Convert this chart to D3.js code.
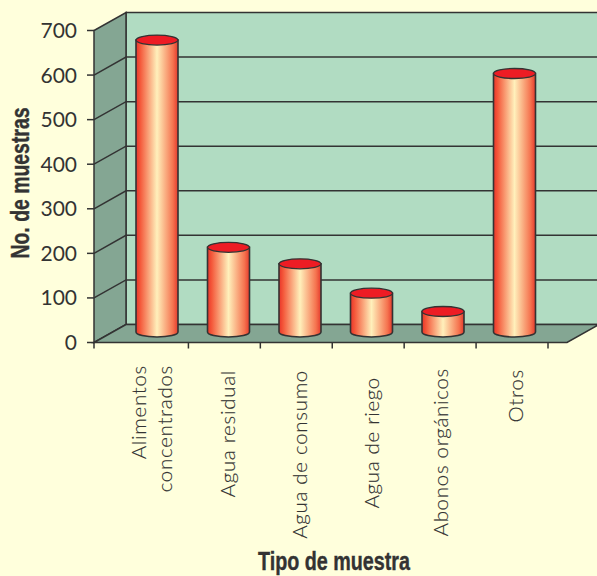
<!DOCTYPE html>
<html><head><meta charset="utf-8">
<script src="https://cdn.jsdelivr.net/npm/d3@7"></script>
<style>html,body{margin:0;padding:0;background:#ffffdc}svg{display:block}</style>
</head><body><svg id="c" width="597" height="576"></svg>
<script>
const categories = ["Alimentos concentrados","Agua residual","Agua de consumo","Agua de riego","Abonos orgánicos","Otros"];
const categoryLines = [["Alimentos","concentrados"],["Agua residual"],["Agua de consumo"],["Agua de riego"],["Abonos orgánicos"],["Otros"]];
const values = [655, 190, 153, 87, 46, 580];
const yTicks = [0,100,200,300,400,500,600,700];

const ink = "#333333";
const depth = {x:32, y:-18};
const svg = d3.select("#c");
const y = d3.scaleLinear().domain([0,700]).range([342.5,30.5]);
const xBand = d3.scaleBand().domain(categories).range([116.5,548]);
const xBar = d3.scalePoint().domain(categories).range([157,514.5]);
const x0 = 94, x1 = 567;

const defs = svg.append("defs");
const g = defs.append("linearGradient").attr("id","cyl");
[[0,"#e8352a"],[.1,"#f4583a"],[.5,"#fff0bb"],[.88,"#f5734f"],[1,"#e43a2c"]].forEach(s=>g.append("stop").attr("offset",s[0]).attr("stop-color",s[1]));

const poly = (pts,fill)=>svg.append("path").attr("d",d3.line()(pts)+"Z").attr("fill",fill).attr("stroke",ink).attr("stroke-width",1.5);
// back wall, side wall and floor
poly([[x0+depth.x,y(0)+depth.y],[x1+depth.x,y(0)+depth.y],[x1+depth.x,y(700)+depth.y],[x0+depth.x,y(700)+depth.y]],"#b1dcc2");
poly([[x0,y(0)],[x0+depth.x,y(0)+depth.y],[x0+depth.x,y(700)+depth.y],[x0,y(700)]],"#84a693");
poly([[x0,y(0)],[x1,y(0)],[x1+depth.x,y(0)+depth.y],[x0+depth.x,y(0)+depth.y]],"#84a693");

// gridlines run across the side wall and the back wall
svg.append("g").selectAll("path").data(yTicks.slice(1,-1)).join("path")
  .attr("d",d=>`M${x0},${y(d)}L${x0+depth.x},${y(d)+depth.y}L${x1+depth.x},${y(d)+depth.y}`)
  .attr("fill","none").attr("stroke",ink).attr("stroke-width",1.5);

// value axis
svg.append("g").selectAll("line").data(yTicks).join("line")
  .attr("x1",x0-7).attr("x2",x0).attr("y1",d=>y(d)).attr("y2",d=>y(d)).attr("stroke",ink).attr("stroke-width",1.5);
svg.append("g").selectAll("text").data(yTicks).join("text")
  .attr("x",77).attr("y",d=>y(d)+7.5).attr("text-anchor","end").attr("fill",ink)
  .style("font","400 21px Lato").text(d=>d);

// category ticks
const tickXs = [x0].concat(categories.map(d=>xBand(d)+xBand.bandwidth()));
svg.append("g").selectAll("line").data(tickXs).join("line")
  .attr("x1",d=>d).attr("x2",d=>d).attr("y1",y(0)).attr("y2",y(0)+6).attr("stroke",ink).attr("stroke-width",1.5);

// cylinders, raised to mid depth of the floor
const rx = 21, ry = 5;
const midY = v => y(v)-10.5;
const bars = svg.append("g").selectAll("g").data(values).join("g")
  .attr("transform",(d,i)=>`translate(${xBar(categories[i])},0)`);
bars.append("path")
  .attr("d",d=>`M${-rx},${midY(d)}L${-rx},${midY(0)}A${rx},${ry} 0 0 0 ${rx},${midY(0)}L${rx},${midY(d)}Z`)
  .attr("fill","url(#cyl)").attr("stroke",ink).attr("stroke-width",1.6);
bars.append("ellipse").attr("cy",d=>midY(d)).attr("rx",rx).attr("ry",ry)
  .attr("fill","#ed1c24").attr("stroke",ink).attr("stroke-width",1.3);

// rotated category labels, one or two lines; each hangs from its own start offset
const labelStart = [365,370,370,377,368,369];
const labelNudge = [0,0,0,0,-3,0];
const labels = svg.append("g").selectAll("g").data(categoryLines).join("g")
  .attr("transform",(d,i)=>`translate(${xBand(categories[i])+xBand.bandwidth()/2},0)`);
labels.each(function(d,i){
  const sel = d3.select(this);
  d.forEach((t,k)=>{
    const dx = d.length>1 ? -6.4+k*26 : 11+labelNudge[i];
    sel.append("text").attr("text-anchor","end").attr("fill",ink)
      .attr("transform",`translate(${dx},${labelStart[i]}) rotate(-90)`)
      .style("font","300 20.5px Lato").style("letter-spacing","0.7px").style("stroke",ink).style("stroke-width",0.15).text(t);
  });
});

// axis titles, condensed to their printed width
svg.append("text").attr("transform","translate(29,183) rotate(-90)").attr("text-anchor","middle").attr("fill",ink)
  .attr("textLength",151).attr("lengthAdjust","spacingAndGlyphs")
  .style("font","bold 26px 'Liberation Sans'").style("stroke",ink).style("stroke-width",0.4).text("No. de muestras");
svg.append("text").attr("x",334).attr("y",570).attr("text-anchor","middle").attr("fill",ink)
  .attr("textLength",152).attr("lengthAdjust","spacingAndGlyphs")
  .style("font","bold 26px 'Liberation Sans'").style("stroke",ink).style("stroke-width",0.4).text("Tipo de muestra");
</script></body></html>
